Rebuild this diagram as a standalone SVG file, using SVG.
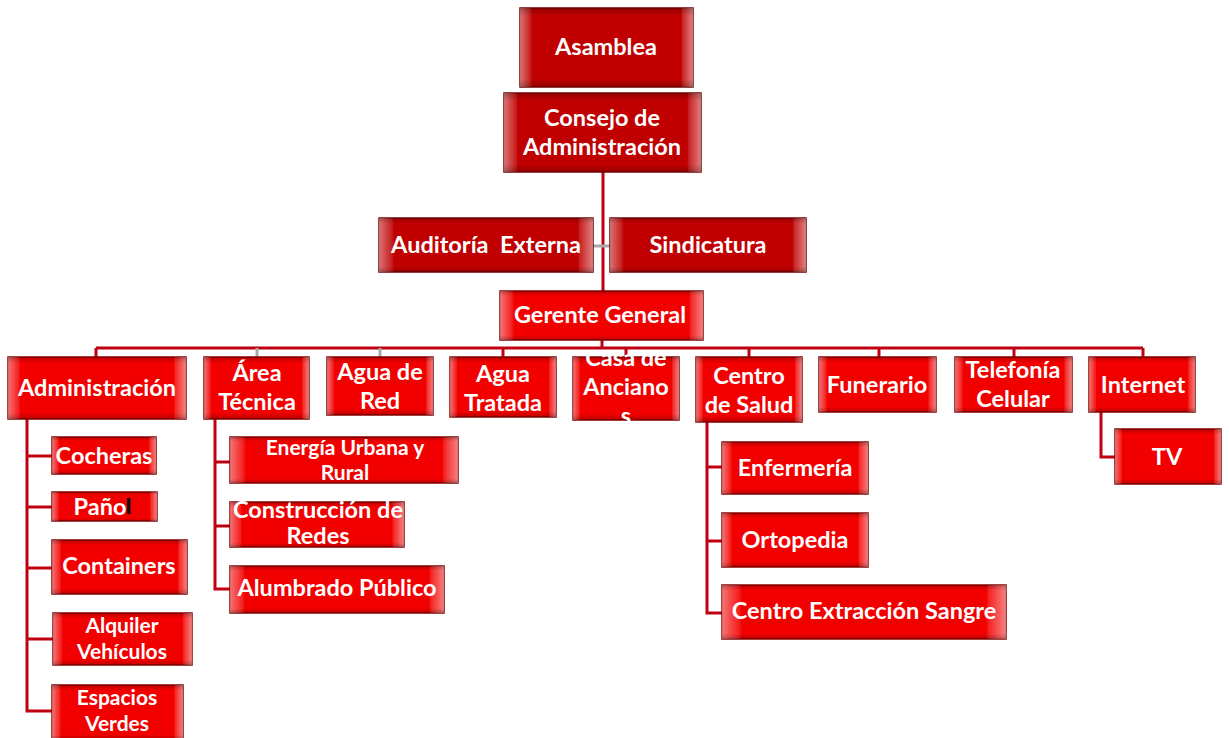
<svg xmlns="http://www.w3.org/2000/svg" width="1229" height="738" viewBox="0 0 1229 738">
<defs>
<linearGradient id="hg" x1="0" y1="0" x2="1" y2="0">
<stop offset="0" stop-color="#fff" stop-opacity="0.45"/>
<stop offset="0.06" stop-color="#fff" stop-opacity="0.12"/>
<stop offset="0.07" stop-color="#fff" stop-opacity="0"/>
<stop offset="0.93" stop-color="#fff" stop-opacity="0"/>
<stop offset="0.94" stop-color="#fff" stop-opacity="0.15"/>
<stop offset="1" stop-color="#fff" stop-opacity="0.5"/>
</linearGradient>
<linearGradient id="vg" x1="0" y1="0" x2="0" y2="1">
<stop offset="0" stop-color="#000" stop-opacity="0.22"/>
<stop offset="0.1" stop-color="#000" stop-opacity="0"/>
<stop offset="0.9" stop-color="#000" stop-opacity="0"/>
<stop offset="1" stop-color="#000" stop-opacity="0.22"/>
</linearGradient>
<clipPath id="casaclip"><rect x="570" y="353" width="112" height="71"/></clipPath>
</defs>
<style>
.d{fill:#c00000;stroke:#7a0000;stroke-width:1.5}
.b{fill:#f20000;stroke:#8a0000;stroke-width:1.5}
.hb{fill:url(#hg)}
.vb{fill:url(#vg)}
.t{font-family:Lato,"Liberation Sans",sans-serif;font-weight:bold;font-size:23.5px;fill:#fff;text-anchor:middle;white-space:pre}
.s{font-size:21px}
.c{fill:none;stroke:#c00010;stroke-width:3}
.g{fill:none;stroke:#a8a8a8;stroke-width:3}
</style>
<rect width="1229" height="738" fill="#fff"/>
<g id="connectors">
<path class="c" d="M603 172V291"/>
<path class="g" d="M593 246H610"/>
<path class="c" d="M602 340V348"/>
<path class="c" d="M96 348H1143"/>
<path class="c" d="M96 348V357"/>
<path class="g" d="M257 348V357"/>
<path class="g" d="M380 348V357"/>
<path class="c" d="M503 348V357"/>
<path class="c" d="M626 348V357"/>
<path class="c" d="M749 348V357"/>
<path class="c" d="M879 348V357"/>
<path class="c" d="M1014 348V357"/>
<path class="c" d="M1143 348V357"/>
<path class="c" d="M27 419V711H52M27 456H52M27 507H52M27 568H52M27 639H53"/>
<path class="c" d="M215 419V589H230M215 462H230M215 526H230"/>
<path class="c" d="M707 422V613H722M707 467H722M707 541H722"/>
<path class="c" d="M1101 412V457H1115"/>
</g>
<g id="asamblea"><rect class="d" x="520" y="8" width="173" height="79"/><rect class="hb" x="520" y="8" width="173" height="79"/><rect class="vb" x="520" y="8" width="173" height="79"/><text class="t" x="606" y="55">Asamblea</text></g>
<g id="consejo"><rect class="d" x="504" y="93" width="197" height="79"/><rect class="hb" x="504" y="93" width="197" height="79"/><rect class="vb" x="504" y="93" width="197" height="79"/><text class="t" x="602" y="126">Consejo de</text><text class="t" x="602" y="155">Administración</text></g>
<g id="auditoria"><rect class="d" x="379" y="218" width="214" height="54"/><rect class="hb" x="379" y="218" width="214" height="54"/><rect class="vb" x="379" y="218" width="214" height="54"/><text class="t" x="486" y="253" xml:space="preserve">Auditoría  Externa</text></g>
<g id="sindicatura"><rect class="d" x="610" y="218" width="196" height="54"/><rect class="hb" x="610" y="218" width="196" height="54"/><rect class="vb" x="610" y="218" width="196" height="54"/><text class="t" x="708" y="253">Sindicatura</text></g>
<g id="gerente"><rect class="b" x="500" y="291" width="203" height="49"/><rect class="hb" x="500" y="291" width="203" height="49"/><rect class="vb" x="500" y="291" width="203" height="49"/><text class="t" x="600" y="323">Gerente General</text></g>
<g id="administracion"><rect class="b" x="8" y="357" width="178" height="62"/><rect class="hb" x="8" y="357" width="178" height="62"/><rect class="vb" x="8" y="357" width="178" height="62"/><text class="t" x="97" y="396">Administración</text></g>
<g id="area-tecnica"><rect class="b" x="204" y="357" width="105" height="62"/><rect class="hb" x="204" y="357" width="105" height="62"/><rect class="vb" x="204" y="357" width="105" height="62"/><text class="t" x="257" y="381">Área</text><text class="t" x="257" y="410">Técnica</text></g>
<g id="agua-red"><rect class="b" x="327" y="357" width="106" height="58"/><rect class="hb" x="327" y="357" width="106" height="58"/><rect class="vb" x="327" y="357" width="106" height="58"/><text class="t" x="380" y="380">Agua de</text><text class="t" x="380" y="409">Red</text></g>
<g id="agua-tratada"><rect class="b" x="450" y="357" width="106" height="60"/><rect class="hb" x="450" y="357" width="106" height="60"/><rect class="vb" x="450" y="357" width="106" height="60"/><text class="t" x="503" y="382">Agua</text><text class="t" x="503" y="411">Tratada</text></g>
<g id="casa-ancianos"><rect class="b" x="573" y="357" width="106" height="63"/><rect class="hb" x="573" y="357" width="106" height="63"/><rect class="vb" x="573" y="357" width="106" height="63"/><g clip-path="url(#casaclip)"><text class="t" x="626" y="366">Casa de</text><text class="t" x="626" y="395">Anciano</text><text class="t" x="626" y="424">s</text></g></g>
<g id="centro-salud"><rect class="b" x="696" y="357" width="106" height="65"/><rect class="hb" x="696" y="357" width="106" height="65"/><rect class="vb" x="696" y="357" width="106" height="65"/><text class="t" x="749" y="384">Centro</text><text class="t" x="749" y="413">de Salud</text></g>
<g id="funerario"><rect class="b" x="819" y="357" width="117" height="55"/><rect class="hb" x="819" y="357" width="117" height="55"/><rect class="vb" x="819" y="357" width="117" height="55"/><text class="t" x="877" y="393">Funerario</text></g>
<g id="telefonia"><rect class="b" x="955" y="357" width="117" height="55"/><rect class="hb" x="955" y="357" width="117" height="55"/><rect class="vb" x="955" y="357" width="117" height="55"/><text class="t" x="1013" y="378">Telefonía</text><text class="t" x="1013" y="407">Celular</text></g>
<g id="internet"><rect class="b" x="1089" y="357" width="106" height="55"/><rect class="hb" x="1089" y="357" width="106" height="55"/><rect class="vb" x="1089" y="357" width="106" height="55"/><text class="t" x="1143" y="393">Internet</text></g>
<g id="tv"><rect class="b" x="1115" y="429" width="106" height="55"/><rect class="hb" x="1115" y="429" width="106" height="55"/><rect class="vb" x="1115" y="429" width="106" height="55"/><text class="t" x="1167" y="465">TV</text></g>
<g id="cocheras"><rect class="b" x="52" y="437" width="104" height="37"/><rect class="hb" x="52" y="437" width="104" height="37"/><rect class="vb" x="52" y="437" width="104" height="37"/><text class="t" x="104" y="464">Cocheras</text></g>
<g id="panol"><rect class="b" x="52" y="492" width="105" height="29"/><rect class="hb" x="52" y="492" width="105" height="29"/><rect class="vb" x="52" y="492" width="105" height="29"/><text class="t" x="100" y="515">Paño</text><rect x="127" y="498" width="3.5" height="16" fill="#111"/></g>
<g id="containers"><rect class="b" x="52" y="540" width="135" height="54"/><rect class="hb" x="52" y="540" width="135" height="54"/><rect class="vb" x="52" y="540" width="135" height="54"/><text class="t" x="119" y="574">Containers</text></g>
<g id="alquiler"><rect class="b" x="53" y="613" width="139" height="52"/><rect class="hb" x="53" y="613" width="139" height="52"/><rect class="vb" x="53" y="613" width="139" height="52"/><text class="t s" x="122" y="633">Alquiler</text><text class="t s" x="122" y="659">Vehículos</text></g>
<g id="espacios"><rect class="b" x="52" y="685" width="131" height="55"/><rect class="hb" x="52" y="685" width="131" height="55"/><rect class="vb" x="52" y="685" width="131" height="55"/><text class="t s" x="117" y="705">Espacios</text><text class="t s" x="117" y="731">Verdes</text></g>
<g id="energia"><rect class="b" x="230" y="437" width="228" height="46"/><rect class="hb" x="230" y="437" width="228" height="46"/><rect class="vb" x="230" y="437" width="228" height="46"/><text class="t s" x="345" y="455">Energía Urbana y</text><text class="t s" x="345" y="480">Rural</text></g>
<g id="construccion"><rect class="b" x="230" y="502" width="174" height="45"/><rect class="hb" x="230" y="502" width="174" height="45"/><rect class="vb" x="230" y="502" width="174" height="45"/><text class="t" x="318" y="518">Construcción de</text><text class="t" x="318" y="544">Redes</text></g>
<g id="alumbrado"><rect class="b" x="230" y="566" width="214" height="47"/><rect class="hb" x="230" y="566" width="214" height="47"/><rect class="vb" x="230" y="566" width="214" height="47"/><text class="t" x="337" y="596">Alumbrado Público</text></g>
<g id="enfermeria"><rect class="b" x="722" y="442" width="146" height="52"/><rect class="hb" x="722" y="442" width="146" height="52"/><rect class="vb" x="722" y="442" width="146" height="52"/><text class="t" x="795" y="476">Enfermería</text></g>
<g id="ortopedia"><rect class="b" x="722" y="513" width="146" height="54"/><rect class="hb" x="722" y="513" width="146" height="54"/><rect class="vb" x="722" y="513" width="146" height="54"/><text class="t" x="795" y="548">Ortopedia</text></g>
<g id="extraccion"><rect class="b" x="722" y="585" width="284" height="54"/><rect class="hb" x="722" y="585" width="284" height="54"/><rect class="vb" x="722" y="585" width="284" height="54"/><text class="t" x="864" y="619">Centro Extracción Sangre</text></g>
</svg>
